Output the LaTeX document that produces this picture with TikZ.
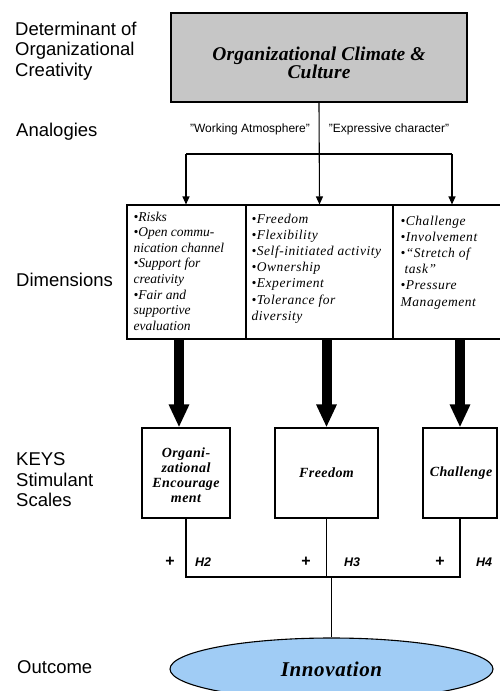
\documentclass[tikz,border=0pt]{standalone}
\usepackage{fontspec}
\setmainfont{Liberation Serif}
\setsansfont{Liberation Sans}
\newfontfamily\titleserif[LetterSpace=1]{Liberation Serif}
\newfontfamily\keyserif[LetterSpace=3]{Liberation Serif}
\newfontfamily\lightspaced[LetterSpace=4]{Liberation Serif}
\usetikzlibrary{arrows.meta,shapes.geometric}
\definecolor{boxgray}{RGB}{198,198,198}
\definecolor{ovalblue}{RGB}{160,204,245}
\begin{document}
\begin{tikzpicture}[x=1pt,y=-1pt,
  leftlabel/.style={font=\sffamily\fontsize{18.5}{20.5}\selectfont, align=left, anchor=west, inner sep=0pt},
  qlabel/.style={font=\sffamily\fontsize{12}{14}\selectfont, inner sep=0pt},
  frame/.style={draw, line width=1.1pt, inner sep=0pt},
  thinline/.style={line width=1.1pt},
  thinarrow/.style={line width=1.1pt, -{Triangle[length=8pt,width=7pt]}},
  bigarrow/.style={line width=10pt, -{Triangle[length=23pt,width=19pt]}},
  dimtext/.style={font=\itshape\fontsize{13.5}{15.6}\selectfont, align=left, anchor=north west, inner sep=0pt},
  dimtextb/.style={font=\lightspaced\itshape\fontsize{13.5}{16.2}\selectfont, align=left, anchor=north west, inner sep=0pt},
  keytext/.style={font=\keyserif\bfseries\itshape\fontsize{14}{15}\selectfont, align=center, inner sep=0pt},
  hlabel/.style={font=\sffamily\bfseries\itshape\fontsize{12.5}{14}\selectfont, inner sep=0pt},
  plabel/.style={font=\sffamily\bfseries\fontsize{16}{16}\selectfont, inner sep=0pt}
]
\useasboundingbox (0,0) rectangle (499,691);

% left-hand labels
\node[leftlabel] (lDet) at (15,51) {Determinant of\\Organizational\\Creativity};
\node[leftlabel] (lAna) at (16,132) {Analogies};
\node[leftlabel] (lDim) at (16,280) {Dimensions};
\node[leftlabel] (lKey) at (16,480) {KEYS\\Stimulant\\Scales};
\node[leftlabel] (lOut) at (17,667) {Outcome};

% top box
\node[frame, fill=boxgray, minimum width=296pt, minimum height=89pt] (top) at (319,57.5) {};
\node[font=\titleserif\bfseries\itshape\fontsize{19.5}{16}\selectfont, align=center, inner sep=0pt] (toptext) at (319,63) {Organizational Climate \&\\Culture};

% analogies
\node[qlabel] (qWork) at (250,129) {"Working Atmosphere"};
\node[qlabel] (qExpr) at (389,129) {"Expressive character"};

% dimensions boxes
\node[frame, minimum width=119pt, minimum height=134pt] (dim1) at (186.5,272) {};
\node[frame, minimum width=147pt, minimum height=134pt] (dim2) at (319.5,272) {};
\node[frame, minimum width=108pt, minimum height=134pt] (dim3) at (447,272) {};

\node[dimtext] (t1) at ([xshift=7pt,yshift=-7pt]dim1.north west)
  {\textbullet Risks\\\textbullet Open commu-\\nication channel\\\textbullet Support for\\creativity\\\textbullet Fair and\\supportive\\evaluation};
\node[dimtextb] (t2) at ([xshift=6pt,yshift=-9pt]dim2.north west)
  {\textbullet Freedom\\\textbullet Flexibility\\\textbullet Self-initiated activity\\\textbullet Ownership\\\textbullet Experiment\\\textbullet Tolerance for\\diversity};
\node[dimtextb] (t3) at ([xshift=8pt,yshift=-11pt]dim3.north west)
  {\textbullet Challenge\\\textbullet Involvement\\\textbullet “Stretch of\\\hspace*{4pt}task”\\\textbullet Pressure\\Management};

% thin connectors
\coordinate (h1) at (186,154);
\coordinate (h3) at (452,154);
\draw[thinline] (h1) -- (h3);
\draw[thinarrow] (top.south) -- (dim2.north);
\draw[thinarrow] (h1) -- (h1 |- dim1.north);
\draw[thinarrow] (h3) -- (h3 |- dim3.north);

% KEYS boxes
\node[frame, minimum width=88pt, minimum height=90pt] (key1) at (186,473) {};
\node[frame, minimum width=103pt, minimum height=90pt] (key2) at (326.5,473) {};
\node[frame, minimum width=74pt, minimum height=90pt] (key3) at (460,473) {};
\node[keytext] (k1t) at (186,475) {Organi-\\zational\\Encourage\\ment};
\node[keytext] (k2t) at (key2.center) {Freedom};
\node[keytext] (k3t) at (461,473) {Challenge};

% thick arrows
\draw[bigarrow] ([xshift=-7pt]key1.north |- dim1.south) -- ([xshift=-7pt]key1.north);
\draw[bigarrow] (key2.north |- dim2.south) -- (key2.north);
\draw[bigarrow] (key3.north |- dim3.south) -- (key3.north);

% outcome
\node[draw, line width=1.1pt, ellipse, fill=ovalblue, minimum width=323pt, minimum height=62pt, inner sep=0pt,
      font=\keyserif\bfseries\itshape\fontsize{21}{24}\selectfont] (out) at (331.5,669) {Innovation};

\coordinate (hy) at (0,577);
\draw[thinline] (key1.south) -- (key1.south |- hy) -- (key3.south |- hy) -- (key3.south);
\draw[thinline] (key2.south) -- (key2.south |- hy);
\draw[thinline] (out.north |- hy) -- (out.north);

% signs and hypotheses
\node[plabel] (p2) at (170,562) {+};
\node[hlabel] (h2l) at (203,562) {H2};
\node[plabel] (p3) at (306,562) {+};
\node[hlabel] (h3l) at (352,562) {H3};
\node[plabel] (p4) at (440,562) {+};
\node[hlabel] (h4l) at (484,562) {H4};
\end{tikzpicture}
\end{document}
